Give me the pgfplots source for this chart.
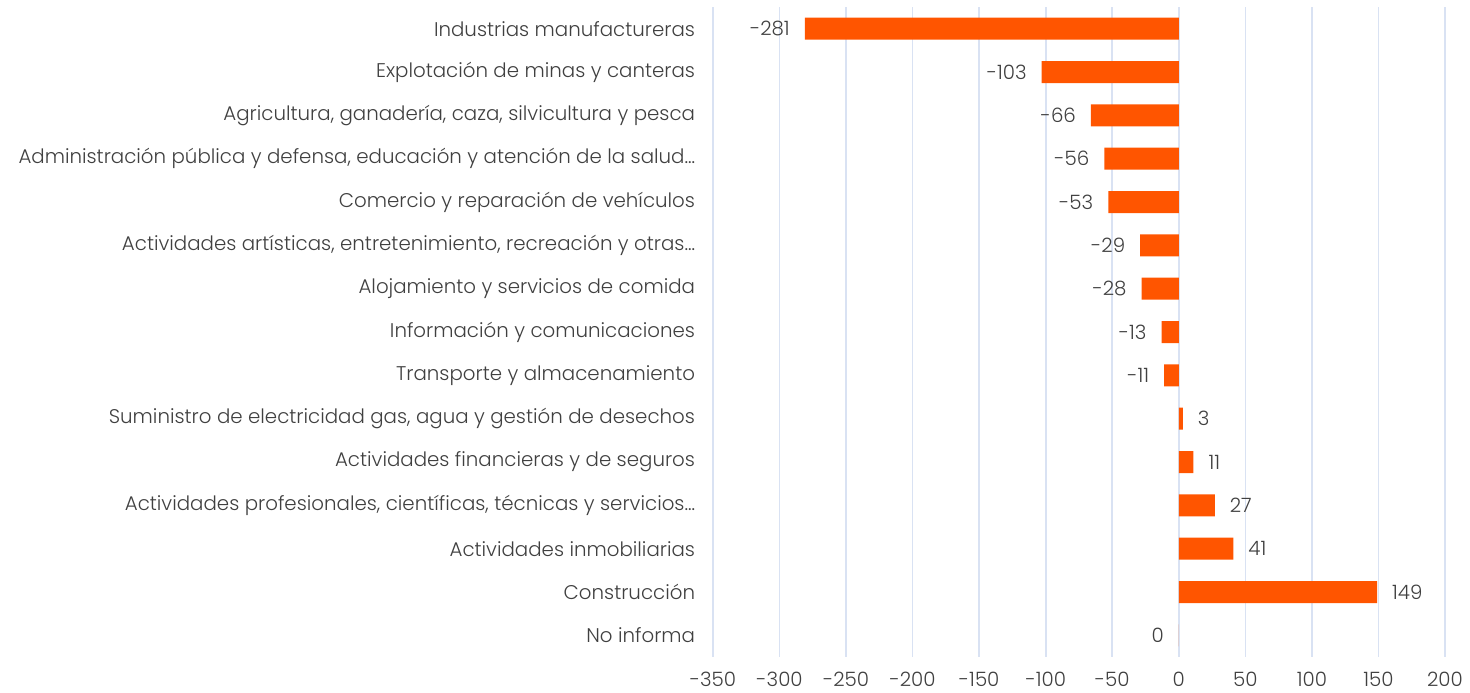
\documentclass[border=0pt]{standalone}
\usepackage{pgfplots}
\pgfplotsset{compat=1.18}
\usepackage{fontspec}
\IfFontExistsTF{Poppins Light}{\setmainfont{Poppins Light}}{\setmainfont{Poppins}}

\definecolor{barorange}{RGB}{255,85,0}
\definecolor{gridblue}{RGB}{217,226,243}
\definecolor{textgray}{RGB}{64,64,64}

\begin{document}
\begin{tikzpicture}
\begin{axis}[
  name=ax,
  scale only axis,
  width=366pt, height=325pt,
  xmin=-350, xmax=200,
  ymin=-0.5, ymax=14.5,
  y dir=reverse,
  axis line style={draw=none},
  tick style={draw=none},
  xmajorgrids,
  grid style={gridblue, line width=0.8pt},
  xtick={-350,-300,-250,-200,-150,-100,-50,0,50,100,150,200},
  xticklabels={-350,-300,-250,-200,-150,-100,-50,0,50,100,150,200},
  ytick={0,...,14},
  yticklabels={
    Industrias manufactureras,
    Explotación de minas y canteras,
    {Agricultura, ganadería, caza, silvicultura y pesca},
    {Administración pública y defensa, educación y atención de la salud…},
    Comercio y reparación de vehículos,
    {Actividades artísticas, entretenimiento, recreación y otras…},
    Alojamiento y servicios de comida,
    Información y comunicaciones,
    Transporte y almacenamiento,
    {Suministro de electricidad gas, agua y gestión de desechos},
    Actividades financieras y de seguros,
    {Actividades profesionales, científicas, técnicas y servicios…},
    Actividades inmobiliarias,
    Construcción,
    No informa},
  ticklabel style={font=\fontsize{9.9}{11.8}\selectfont, text=textgray, inner sep=0pt},
  yticklabel style={xshift=-4.5pt},
  xticklabel style={yshift=-7.5pt},
  xbar, bar width=11pt,
  nodes near coords,
  point meta=explicit symbolic,
  every node near coord/.append style={font=\fontsize{9.9}{11.8}\selectfont, text=textgray},
]
\addplot[draw=none, fill=barorange, bar shift=0pt,
  nodes near coords style={anchor=east, xshift=-4pt}]
coordinates {
(-281,0) [-281]
(-103,1) [-103]
(-66,2) [-66]
(-56,3) [-56]
(-53,4) [-53]
(-29,5) [-29]
(-28,6) [-28]
(-13,7) [-13]
(-11,8) [-11]
(0,14) [0]
};
\addplot[draw=none, fill=barorange, bar shift=0pt,
  nodes near coords style={anchor=west, xshift=4pt}]
coordinates {
(3,9) [3]
(11,10) [11]
(27,11) [27]
(41,12) [41]
(149,13) [149]
};
\end{axis}
\pgfresetboundingbox
\path (ax.south west) ++(-356.5pt,-17.5pt) rectangle ([shift={(12.5pt,3.5pt)}]ax.north east);
\end{tikzpicture}
\end{document}
